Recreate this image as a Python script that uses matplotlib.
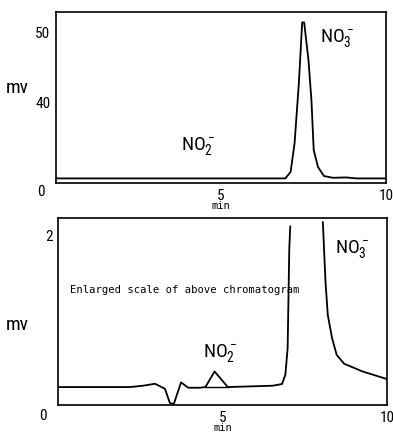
import numpy as np
import matplotlib.pyplot as plt

plt.rcParams['font.family'] = ['Roboto Condensed', 'Liberation Sans', 'DejaVu Sans']
plt.rcParams['mathtext.default'] = 'regular'

# upper chromatogram (mV vs min)
top_t = [0.0, 6.95, 7.11, 7.23, 7.36, 7.46, 7.52, 7.65, 7.74, 7.81,
         7.94, 8.12, 8.39, 8.80, 9.10, 10.0]
top_mv = [29.06, 29.06, 30.0, 34.15, 42.8, 51.5, 51.5, 46.1, 40.35, 33.1,
          30.7, 29.4, 29.15, 29.2, 29.06, 29.06]

# lower chromatogram, enlarged (NaN = off scale)
low_t = [0.0, 2.19, 2.59, 2.95, 3.25, 3.40, 3.52, 3.74, 3.96, 4.31,
         4.48, 4.76, 5.16, 6.53, 6.81, 6.91, 6.98, 7.03, 7.06,
         7.5, 8.05, 8.13, 8.20, 8.33, 8.47, 8.70, 9.26, 9.97, 10.0]
low_mv = [0.212, 0.212, 0.228, 0.251, 0.192, 0.024, 0.012, 0.267, 0.204, 0.204,
          0.212, 0.396, 0.212, 0.228, 0.248, 0.357, 0.67, 1.85, 2.11,
          np.nan, 2.16, 1.46, 1.065, 0.79, 0.593, 0.487, 0.396, 0.31, 0.305]

# NO2- peak base line
no2_base_t = [4.48, 5.16]
no2_base_mv = [0.212, 0.212]

top_yticks = [40, 50]
low_yticks = [2]
x_ticks = [5, 10]

mono = 'DejaVu Sans Mono'

fig = plt.figure(figsize=(3.93, 4.34), dpi=100)
W, H = 393, 434


def add_ax(l, t, r, b):
    return fig.add_axes([l / W, 1 - b / H, (r - l) / W, (b - t) / H])


ax1 = add_ax(56, 12, 386, 183)
ax1.plot(top_t, top_mv, color='black', lw=1.3)
ax1.set_xlim(0, 10)
ax1.set_ylim(28.4, 53.0)
ax1.set_yticks(top_yticks)
ax1.set_xticks(x_ticks)
ax1.text(8.0, 48.7, r'NO$_3^-$', fontsize=14)
ax1.text(3.8, 33.1, r'NO$_2^-$', fontsize=14)
fig.text(6 / W, 1 - 88 / H, 'mv', fontsize=14, va='center')
ax1.text(-0.035, -0.05, '0', transform=ax1.transAxes, fontsize=11,
         ha='right', va='center')
ax1.set_xlabel('min', fontsize=7.5, family=mono, labelpad=-1)

ax2 = add_ax(58, 218, 387, 405)
ax2.plot(low_t, low_mv, color='black', lw=1.3)
ax2.plot(no2_base_t, no2_base_mv, color='black', lw=1.0)
ax2.set_xlim(0, 10)
ax2.set_ylim(0, 2.21)
ax2.set_yticks(low_yticks)
ax2.set_xticks(x_ticks)
ax2.text(8.42, 1.8, r'NO$_3^-$', fontsize=14)
ax2.text(4.4, 0.57, r'NO$_2^-$', fontsize=14)
ax2.text(0.35, 1.32, 'Enlarged scale of above chromatogram',
         fontsize=7.6, family=mono)
fig.text(6 / W, 1 - 325 / H, 'mv', fontsize=14, va='center')
ax2.text(-0.035, -0.06, '0', transform=ax2.transAxes, fontsize=11,
         ha='right', va='center')
ax2.set_xlabel('min', fontsize=7.5, family=mono, labelpad=-1)

for ax in (ax1, ax2):
    ax.tick_params(length=0, labelsize=11, pad=4)
    for s in ax.spines.values():
        s.set_linewidth(1.2)

fig.savefig('out.png', dpi=100)
